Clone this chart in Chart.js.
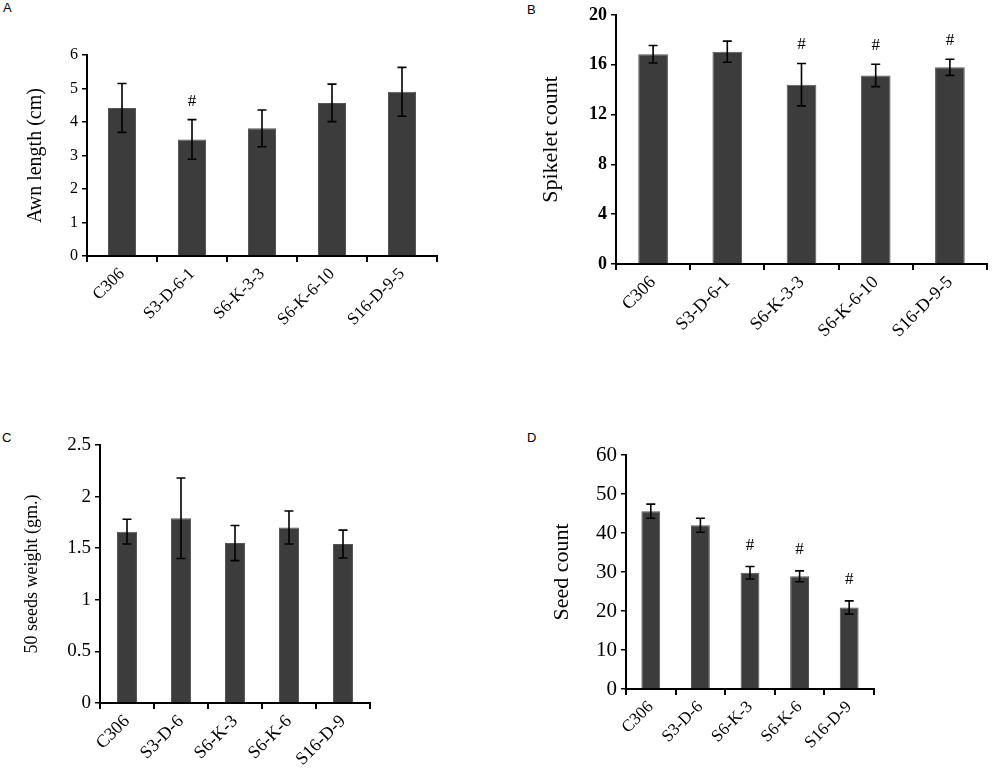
<!DOCTYPE html>
<html>
<head>
<meta charset="utf-8">
<script src="https://cdn.jsdelivr.net/npm/chart.js@4"></script>
<style>
body { margin: 0; background: #fff; width: 1000px; height: 776px; position: relative; overflow: hidden; }
canvas { position: absolute; }
.lbl { position: absolute; font: 13px "Liberation Sans", Arial, sans-serif; color: #000; }
</style>
</head>
<body>
<div class="lbl" style="left:3px;top:0px">A</div>
<div class="lbl" style="left:527px;top:2px">B</div>
<div class="lbl" style="left:2px;top:430px">C</div>
<div class="lbl" style="left:527px;top:430px">D</div>
<canvas id="chartA" width="500" height="380" style="left:0;top:0"></canvas>
<canvas id="chartB" width="500" height="380" style="left:500px;top:0"></canvas>
<canvas id="chartC" width="500" height="386" style="left:0;top:390px"></canvas>
<canvas id="chartD" width="500" height="386" style="left:500px;top:390px"></canvas>
<script>
// DATA

const linesLong = ["C306", "S3-D-6-1", "S6-K-3-3", "S6-K-6-10", "S16-D-9-5"];
const linesShort = ["C306", "S3-D-6", "S6-K-3", "S6-K-6", "S16-D-9"];

const awnLength = [4.42, 3.48, 3.81, 4.57, 4.9];
const awnErr = [0.73, 0.59, 0.55, 0.56, 0.73];
const awnHash = [false, true, false, false, false];

const spikeletCount = [16.85, 17.05, 14.4, 15.15, 15.8];
const spikeletErr = [0.7, 0.85, 1.7, 0.9, 0.65];
const spikeletHash = [false, false, true, true, true];

const seedWeight = [1.66, 1.79, 1.55, 1.7, 1.54];
const seedWeightErr = [0.12, 0.39, 0.17, 0.16, 0.135];
const seedWeightHash = [false, false, false, false, false];

const seedCount = [45.6, 42.0, 29.8, 28.9, 20.9];
const seedCountErr = [1.8, 1.8, 1.6, 1.4, 1.7];
const seedCountHash = [false, false, true, true, true];

const serif = '"Liberation Serif", "Times New Roman", serif';

// ERROR BARS + # MARKS

const errorBars = {
  id: "errorBars",
  afterDatasetsDraw(chart, args, opts) {
    const ctx = chart.ctx;
    const x = chart.scales.x;
    const y = chart.scales.y;
    const vals = chart.data.datasets[0].data;
    ctx.save();
    ctx.strokeStyle = "#000";
    ctx.lineWidth = 1.6;
    vals.forEach((v, i) => {
      const cx = x.getPixelForValue(i);
      const top = y.getPixelForValue(v + opts.err[i]);
      const bot = y.getPixelForValue(v - opts.err[i]);
      ctx.beginPath();
      ctx.moveTo(cx, top);
      ctx.lineTo(cx, bot);
      ctx.moveTo(cx - 4.5, top);
      ctx.lineTo(cx + 4.5, top);
      ctx.moveTo(cx - 4.5, bot);
      ctx.lineTo(cx + 4.5, bot);
      ctx.stroke();
      if (opts.hash[i]) {
        ctx.fillStyle = "#000";
        ctx.font = "17px " + serif;
        ctx.textAlign = "center";
        ctx.textBaseline = "middle";
        ctx.fillText("#", cx, top - opts.gap);
      }
    });
    ctx.restore();
  },
};

function makeChart(id, labels, values, err, hash, o) {
  const ctx = document.getElementById(id).getContext("2d");
  return new Chart(ctx, {
    type: "bar",
    data: {
      labels: labels,
      datasets: [
        {
          data: values,
          backgroundColor: "#3c3c3c",
          borderColor: "#555",
          borderWidth: 1,
          categoryPercentage: 1,
          barPercentage: o.barPct,
        },
      ],
    },
    options: {
      responsive: false,
      animation: false,
      devicePixelRatio: 1,
      layout: { padding: { top: o.padTop, right: o.padRight, left: 0, bottom: 0 } },
      plugins: {
        legend: { display: false },
        tooltip: { enabled: false },
        errorBars: { err: err, hash: hash, gap: o.gap },
      },
      scales: {
        x: {
          afterFit(s) { s.height = o.xH; },
          border: { display: true, color: "#000", width: 2 },
          grid: { display: true, drawOnChartArea: false, drawTicks: true, tickLength: 6, color: "#000", lineWidth: 2 },
          ticks: {
            color: "#000",
            font: { family: serif, size: o.xFont },
            minRotation: 45,
            maxRotation: 45,
            autoSkip: false,
            padding: 2,
          },
        },
        y: {
          min: 0,
          max: o.yMax,
          afterFit(s) { s.width = o.yW; },
          border: { display: true, color: "#000", width: 2 },
          grid: { display: true, drawOnChartArea: false, drawTicks: true, tickLength: 5, color: "#000", lineWidth: 1.5 },
          ticks: {
            stepSize: o.step,
            color: "#000",
            padding: 4,
            callback: (v) => String(v),
            font: { family: serif, size: o.yFont, weight: o.yBold ? "bold" : "normal" },
          },
          title: {
            display: true,
            text: o.title,
            color: "#000",
            font: { family: serif, size: o.titleFont },
            padding: { top: o.titlePad, bottom: 0 },
          },
        },
      },
    },
    plugins: [errorBars],
  });
}

makeChart("chartA", linesLong, awnLength, awnErr, awnHash, {
  barPct: 0.4, padTop: 55, padRight: 63, xH: 124, yW: 87, yMax: 6, step: 1,
  xFont: 17, yFont: 16, yBold: false, title: "Awn length (cm)", titleFont: 20, titlePad: 24, gap: 18,
});

makeChart("chartB", linesLong, spikeletCount, spikeletErr, spikeletHash, {
  barPct: 0.4, padTop: 15, padRight: 13, xH: 116, yW: 116, yMax: 20, step: 4,
  xFont: 18, yFont: 18, yBold: true, title: "Spikelet count", titleFont: 22, titlePad: 38, gap: 19,
});

makeChart("chartC", linesShort, seedWeight, seedWeightErr, seedWeightHash, {
  barPct: 0.37, padTop: 55, padRight: 130, xH: 73, yW: 100, yMax: 2.5, step: 0.5,
  xFont: 18, yFont: 19, yBold: false, title: "50 seeds weight (gm.)", titleFont: 18, titlePad: 21, gap: 18,
});

makeChart("chartD", linesShort, seedCount, seedCountErr, seedCountHash, {
  barPct: 0.38, padTop: 65, padRight: 126, xH: 87, yW: 126, yMax: 60, step: 10,
  xFont: 17, yFont: 21, yBold: false, title: "Seed count", titleFont: 22, titlePad: 49, gap: 21,
});
</script>
</body>
</html>
